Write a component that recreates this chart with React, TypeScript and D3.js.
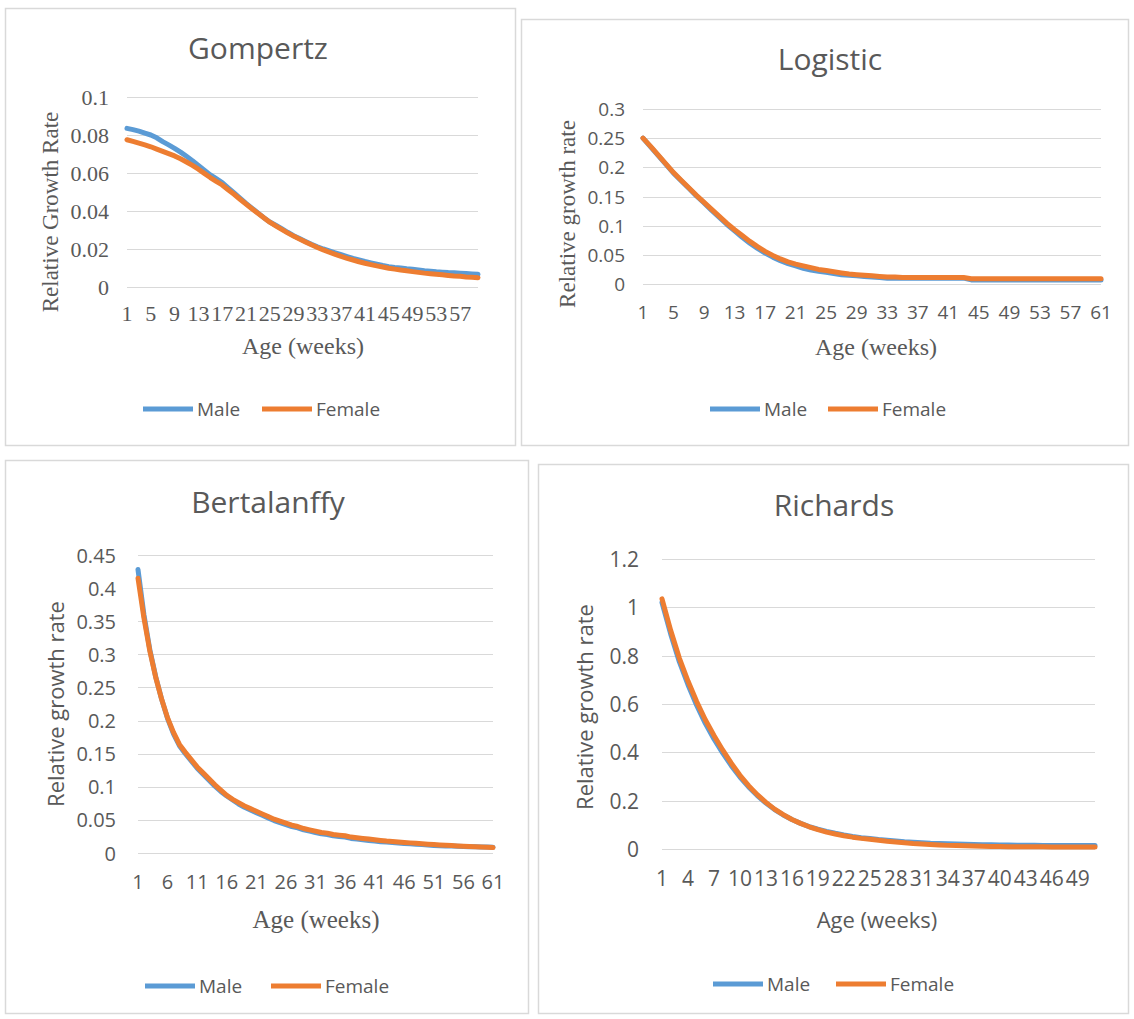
import React from 'react';
import * as d3 from 'd3';

// weeks on the category axis
const gompertzAges = d3.range(1, 61);
const logisticAges = d3.range(1, 62);
const bertalanffyAges = d3.range(1, 62);
const richardsAges = d3.range(1, 52);

// relative growth rate
const gompertzMale = [
  0.0835, 0.0828, 0.0820, 0.0810, 0.0800, 0.0785, 0.0765, 0.0748, 0.0730, 0.0710,
  0.0688, 0.0665, 0.0640, 0.0615, 0.0590, 0.0570, 0.0550, 0.0522, 0.0495, 0.0468,
  0.0440, 0.0415, 0.0390, 0.0365, 0.0342, 0.0325, 0.0307, 0.0288, 0.0270, 0.0255,
  0.0240, 0.0225, 0.0212, 0.0200, 0.0190, 0.0180, 0.0170, 0.0160, 0.0150, 0.0142,
  0.0134, 0.0127, 0.0120, 0.0113, 0.0107, 0.0103, 0.0100, 0.0096, 0.0093, 0.0090,
  0.0086, 0.0083, 0.0080, 0.0078, 0.0076, 0.0075, 0.0073, 0.0071, 0.0069, 0.0067
];
const gompertzFemale = [
  0.0775, 0.0766, 0.0757, 0.0748, 0.0738, 0.0726, 0.0714, 0.0702, 0.0690, 0.0675,
  0.0658, 0.0640, 0.0620, 0.0598, 0.0576, 0.0556, 0.0537, 0.0512, 0.0488, 0.0462,
  0.0437, 0.0412, 0.0388, 0.0364, 0.0341, 0.0322, 0.0303, 0.0285, 0.0268, 0.0252,
  0.0237, 0.0222, 0.0208, 0.0195, 0.0183, 0.0172, 0.0161, 0.0151, 0.0142, 0.0133,
  0.0125, 0.0118, 0.0111, 0.0105, 0.0099, 0.0094, 0.0089, 0.0085, 0.0081, 0.0077,
  0.0073, 0.0070, 0.0067, 0.0064, 0.0061, 0.0058, 0.0056, 0.0053, 0.0051, 0.0049
];

const logisticMale = [
  0.250, 0.235, 0.220, 0.205, 0.190, 0.177, 0.164, 0.151, 0.139, 0.126,
  0.114, 0.102, 0.091, 0.080, 0.070, 0.061, 0.053, 0.046, 0.040, 0.035,
  0.031, 0.027, 0.024, 0.022, 0.020, 0.018, 0.016, 0.015, 0.014, 0.013,
  0.012, 0.011, 0.010, 0.010, 0.010, 0.010, 0.010, 0.010, 0.010, 0.010,
  0.010, 0.010, 0.010, 0.007, 0.007, 0.007, 0.007, 0.007, 0.007, 0.007,
  0.007, 0.007, 0.007, 0.007, 0.007, 0.007, 0.007, 0.007, 0.007, 0.007,
  0.007
];
const logisticFemale = [
  0.250, 0.236, 0.221, 0.206, 0.191, 0.178, 0.165, 0.152, 0.140, 0.128,
  0.116, 0.104, 0.093, 0.083, 0.073, 0.064, 0.056, 0.049, 0.043, 0.038,
  0.034, 0.031, 0.028, 0.025, 0.023, 0.021, 0.019, 0.017, 0.016, 0.015,
  0.014, 0.013, 0.012, 0.012, 0.011, 0.011, 0.011, 0.011, 0.011, 0.011,
  0.011, 0.011, 0.011, 0.009, 0.009, 0.009, 0.009, 0.009, 0.009, 0.009,
  0.009, 0.009, 0.009, 0.009, 0.009, 0.009, 0.009, 0.009, 0.009, 0.009,
  0.009
];

const bertalanffyMale = [
  0.428, 0.360, 0.307, 0.266, 0.232, 0.203, 0.180, 0.162, 0.150, 0.139,
  0.128, 0.119, 0.110, 0.101, 0.093, 0.086, 0.080, 0.074, 0.069, 0.065,
  0.061, 0.057, 0.053, 0.049, 0.046, 0.043, 0.040, 0.038, 0.035, 0.033,
  0.031, 0.029, 0.028, 0.026, 0.025, 0.024, 0.022, 0.021, 0.020, 0.019,
  0.018, 0.017, 0.0165, 0.016, 0.0152, 0.0145, 0.014, 0.0133, 0.0127, 0.012,
  0.0115, 0.011, 0.0107, 0.0104, 0.0101, 0.0098, 0.0096, 0.0094, 0.0092, 0.009,
  0.0088
];
const bertalanffyFemale = [
  0.415, 0.355, 0.305, 0.265, 0.232, 0.204, 0.182, 0.164, 0.152, 0.141,
  0.130, 0.121, 0.112, 0.103, 0.095, 0.087, 0.081, 0.076, 0.071, 0.067,
  0.063, 0.059, 0.055, 0.051, 0.048, 0.045, 0.042, 0.040, 0.037, 0.035,
  0.033, 0.031, 0.030, 0.028, 0.027, 0.026, 0.024, 0.023, 0.022, 0.021,
  0.020, 0.019, 0.018, 0.0175, 0.0167, 0.016, 0.0153, 0.0146, 0.014, 0.0133,
  0.0127, 0.0122, 0.0117, 0.0112, 0.0107, 0.0102, 0.0098, 0.0094, 0.009, 0.0086,
  0.0082
];

const richardsMale = [
  1.02, 0.89, 0.775, 0.68, 0.595, 0.52, 0.455, 0.398, 0.345, 0.298,
  0.257, 0.221, 0.19, 0.163, 0.141, 0.122, 0.106, 0.093, 0.082, 0.073,
  0.065, 0.058, 0.052, 0.047, 0.043, 0.039, 0.036, 0.033, 0.030, 0.028,
  0.026, 0.024, 0.023, 0.022, 0.021, 0.020, 0.019, 0.018, 0.018, 0.017,
  0.017, 0.016, 0.016, 0.016, 0.015, 0.015, 0.015, 0.015, 0.015, 0.015,
  0.015
];
const richardsFemale = [
  1.035, 0.905, 0.79, 0.695, 0.61, 0.535, 0.47, 0.41, 0.355, 0.305,
  0.262, 0.225, 0.193, 0.165, 0.142, 0.122, 0.106, 0.092, 0.080, 0.070,
  0.062, 0.055, 0.049, 0.044, 0.040, 0.036, 0.032, 0.029, 0.026, 0.023,
  0.021, 0.019, 0.017, 0.015, 0.014, 0.013, 0.012, 0.011, 0.010, 0.010,
  0.009, 0.009, 0.009, 0.009, 0.009, 0.008, 0.008, 0.008, 0.008, 0.008,
  0.008
];

// y tick values
const gompertzTicks = [0, 0.02, 0.04, 0.06, 0.08, 0.1];
const logisticTicks = [0, 0.05, 0.1, 0.15, 0.2, 0.25, 0.3];
const bertalanffyTicks = [0, 0.05, 0.1, 0.15, 0.2, 0.25, 0.3, 0.35, 0.4, 0.45];
const richardsTicks = [0, 0.2, 0.4, 0.6, 0.8, 1, 1.2];

const MALE = '#5b9bd5';
const FEMALE = '#ed7d31';
const INK = '#595959';
const GRID = '#d9d9d9';
const SERIF = '"Liberation Serif", "Times New Roman", serif';
const SANS = '"Open Sans", "Liberation Sans", sans-serif';

function GrowthChart(props) {
  const p = props;
  const x = d3.scalePoint().domain(p.ages).range([p.plot.left, p.plot.right]);
  const y = d3.scaleLinear().domain([0, d3.max(p.ticks)]).range([p.plot.bottom, p.plot.top]);
  const line = d3.line()
    .x((d, i) => x(p.ages[i]))
    .y(d => y(d));
  const labelled = p.ages.filter((a, i) => i % p.step === 0);

  return (
    <g>
      <rect x={p.frame.x + 0.5} y={p.frame.y + 0.5} width={p.frame.w} height={p.frame.h}
        fill="#fff" stroke={GRID} strokeWidth={1.5} />
      <text x={p.titleX} y={p.titleY} textAnchor="middle" fontFamily={SANS}
        fontSize={30} fill={INK}>{p.title}</text>

      {p.ticks.map(t => (
        <g key={t}>
          <line x1={p.plot.left} x2={p.plot.right} y1={Math.round(y(t)) + 0.5} y2={Math.round(y(t)) + 0.5}
            stroke={GRID} strokeWidth={1} />
          <text x={p.plot.left - p.tickGap} y={y(t)} textAnchor="end" dominantBaseline="central"
            fontFamily={p.tickFont} fontSize={p.tickSize} fill={INK}>{String(t)}</text>
        </g>
      ))}

      {labelled.map(a => (
        <text key={a} x={x(a)} y={p.xLabelY} textAnchor="middle" dominantBaseline="central"
          fontFamily={p.tickFont} fontSize={p.tickSize} fill={INK}>{a}</text>
      ))}

      <path d={line(p.male)} fill="none" stroke={MALE} strokeWidth={5}
        strokeLinejoin="round" strokeLinecap="round" />
      <path d={line(p.female)} fill="none" stroke={FEMALE} strokeWidth={5}
        strokeLinejoin="round" strokeLinecap="round" />

      <text x={p.xTitle[0]} y={p.xTitle[1]} textAnchor="middle" dominantBaseline="central"
        fontFamily={p.xTitleFont} fontSize={p.xTitleSize} fill={INK}>Age (weeks)</text>
      <text transform={`translate(${p.yTitle[0]},${p.yTitle[1]}) rotate(-90)`} textAnchor="middle"
        dominantBaseline="central" fontFamily={p.yTitleFont} fontSize={p.yTitleSize}
        fill={INK}>{p.yLabel}</text>

      <line x1={p.legend[0]} x2={p.legend[0] + 50} y1={p.legend[2]} y2={p.legend[2]}
        stroke={MALE} strokeWidth={5} />
      <text x={p.legend[0] + 54} y={p.legend[2]} dominantBaseline="central" fontFamily={SANS}
        fontSize={19} fill={INK}>Male</text>
      <line x1={p.legend[1]} x2={p.legend[1] + 50} y1={p.legend[2]} y2={p.legend[2]}
        stroke={FEMALE} strokeWidth={5} />
      <text x={p.legend[1] + 54} y={p.legend[2]} dominantBaseline="central" fontFamily={SANS}
        fontSize={19} fill={INK}>Female</text>
    </g>
  );
}

export default function App() {
  return (
    <svg width={1134} height={1019} style={{ position: 'absolute', left: 0, top: 0, background: '#fff' }}>
      <GrowthChart title="Gompertz" ages={gompertzAges} male={gompertzMale} female={gompertzFemale}
        ticks={gompertzTicks} step={4}
        frame={{ x: 5, y: 8, w: 510, h: 437 }}
        plot={{ left: 127, right: 478, top: 97, bottom: 287 }}
        titleX={258} titleY={59}
        tickFont={SERIF} tickSize={22} tickGap={18} xLabelY={313}
        xTitle={[303, 346]} xTitleFont={SERIF} xTitleSize={24}
        yLabel="Relative Growth Rate" yTitle={[50, 212]} yTitleFont={SERIF} yTitleSize={23}
        legend={[143, 262, 409]} />
      <GrowthChart title="Logistic" ages={logisticAges} male={logisticMale} female={logisticFemale}
        ticks={logisticTicks} step={4}
        frame={{ x: 521, y: 19, w: 607, h: 426 }}
        plot={{ left: 643, right: 1101, top: 109, bottom: 284 }}
        titleX={830} titleY={70}
        tickFont={SANS} tickSize={19} tickGap={18} xLabelY={312}
        xTitle={[876, 347]} xTitleFont={SERIF} xTitleSize={24}
        yLabel="Relative growth rate" yTitle={[567, 214]} yTitleFont={SERIF} yTitleSize={23}
        legend={[710, 828, 409]} />
      <GrowthChart title="Bertalanffy" ages={bertalanffyAges} male={bertalanffyMale} female={bertalanffyFemale}
        ticks={bertalanffyTicks} step={5}
        frame={{ x: 5, y: 460, w: 523, h: 553 }}
        plot={{ left: 138, right: 493, top: 555, bottom: 853 }}
        titleX={268} titleY={513}
        tickFont={SANS} tickSize={20} tickGap={22} xLabelY={881}
        xTitle={[316, 919]} xTitleFont={SERIF} xTitleSize={25}
        yLabel="Relative growth rate" yTitle={[55, 704]} yTitleFont={SANS} yTitleSize={22}
        legend={[145, 271, 986]} />
      <GrowthChart title="Richards" ages={richardsAges} male={richardsMale} female={richardsFemale}
        ticks={richardsTicks} step={3}
        frame={{ x: 538, y: 464, w: 590, h: 549 }}
        plot={{ left: 662, right: 1095, top: 559, bottom: 849 }}
        titleX={834} titleY={516}
        tickFont={SANS} tickSize={21} tickGap={23} xLabelY={878}
        xTitle={[877, 919]} xTitleFont={SANS} xTitleSize={22}
        yLabel="Relative growth rate" yTitle={[584, 707]} yTitleFont={SANS} yTitleSize={22}
        legend={[713, 836, 984]} />
    </svg>
  );
}
